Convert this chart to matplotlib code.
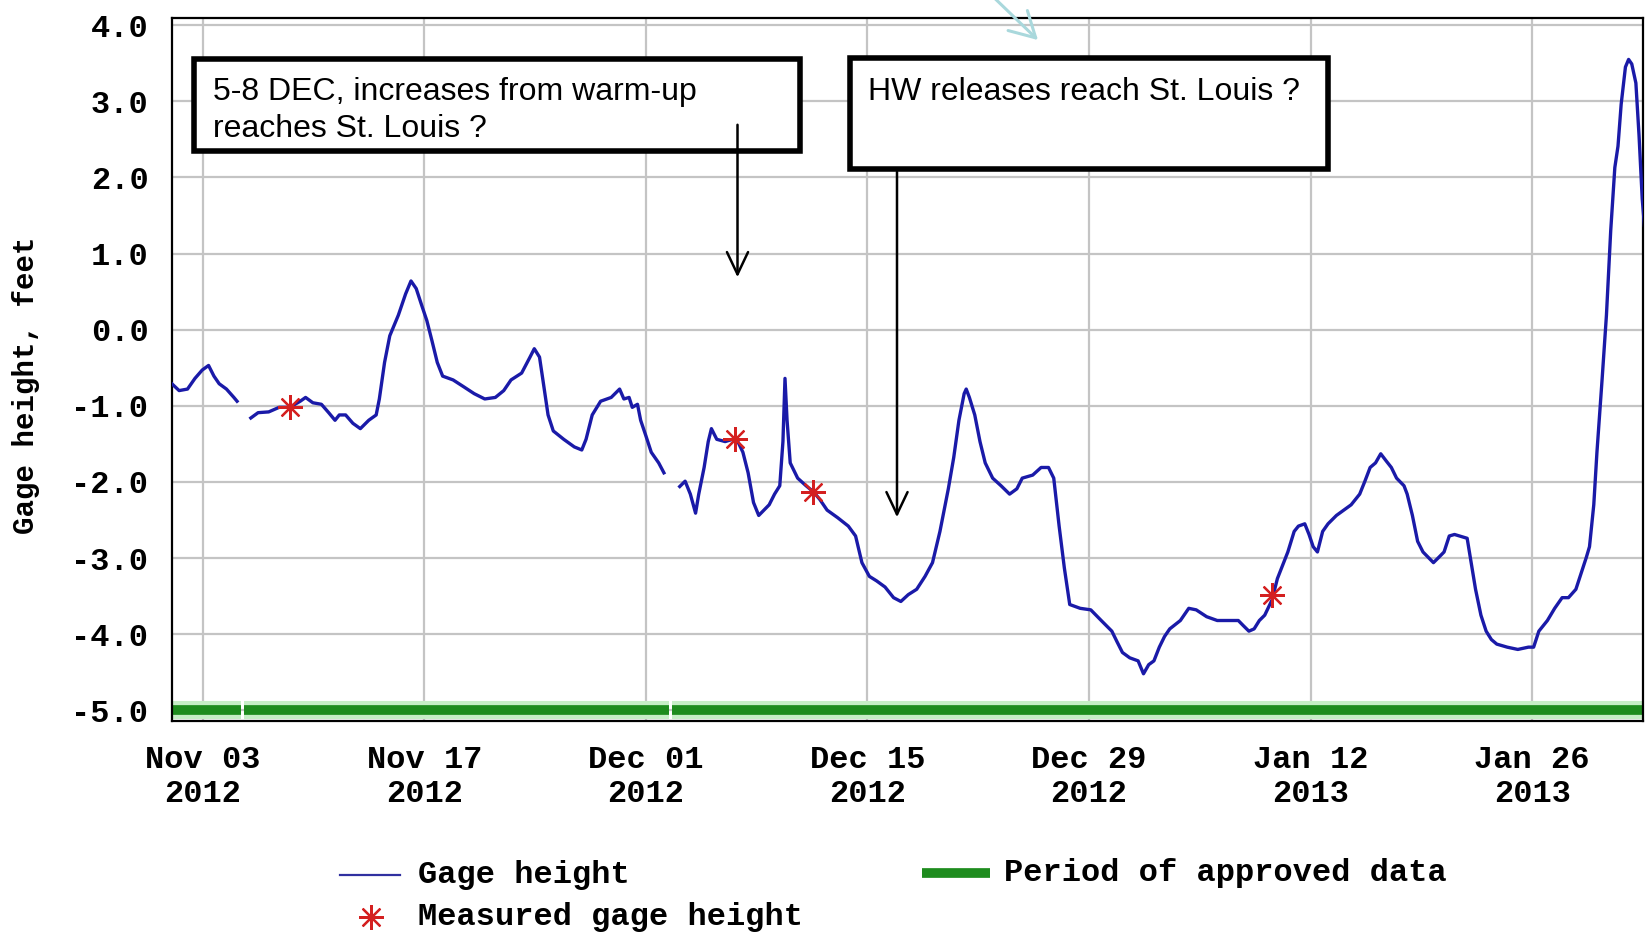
import matplotlib
matplotlib.use("Agg")
import matplotlib.pyplot as plt
import matplotlib.dates as mdates
from matplotlib.lines import Line2D
from matplotlib.patches import Rectangle, FancyArrowPatch
import numpy as np
import pandas as pd

W, H = 1652, 938
START = pd.Timestamp("2012-11-01")

# gage height in feet, days counted from Nov 1 2012; three runs with gaps between
seg1_days = [0.05, 0.51, 1.04, 1.51, 1.97, 2.37, 2.71, 3.04, 3.50, 3.97, 4.17]
seg1_ft = [-0.71, -0.80, -0.78, -0.64, -0.53, -0.47, -0.61, -0.71, -0.78, -0.89, -0.94]

seg2_days = [5.04, 5.50, 6.17, 6.83, 7.50, 8.16, 8.50, 8.96, 9.50, 9.96, 10.36, 10.63,
             11.03, 11.49, 11.96, 12.49, 12.96, 13.16, 13.49, 13.82, 14.36, 14.82, 15.16,
             15.49, 15.82, 16.16, 16.49, 16.82, 17.16, 17.82, 18.49, 19.15, 19.82, 20.49,
             21.02, 21.48, 22.15, 22.68, 22.95, 23.28, 23.48, 23.82, 24.15, 24.81, 25.48,
             25.95, 26.22, 26.61, 27.14, 27.81, 28.34, 28.61, 28.94, 29.14, 29.47, 29.67,
             30.01, 30.34, 30.81, 31.14]
seg2_ft = [-1.16, -1.09, -1.08, -1.02, -1.02, -0.94, -0.89, -0.96, -0.98, -1.09, -1.19, -1.12,
           -1.12, -1.23, -1.30, -1.19, -1.12, -0.91, -0.43, -0.08, 0.19, 0.47, 0.64,
           0.54, 0.33, 0.12, -0.15, -0.43, -0.61, -0.66, -0.75, -0.84, -0.91, -0.89,
           -0.80, -0.66, -0.57, -0.36, -0.25, -0.36, -0.64, -1.12, -1.33, -1.44, -1.54,
           -1.58, -1.44, -1.12, -0.94, -0.89, -0.78, -0.91, -0.89, -1.02, -0.98, -1.19,
           -1.40, -1.61, -1.75, -1.88]

seg3_days = [32.14, 32.48, 32.81, 33.14, 33.34, 33.68, 33.94, 34.14, 34.48, 35.01, 35.48, 35.81,
             36.13, 36.46, 36.80, 37.13, 37.46, 37.79, 38.13, 38.46, 38.66, 38.79, 38.92,
             39.12, 39.59, 40.12, 40.59, 40.99, 41.45, 42.12, 42.79, 43.25, 43.65, 44.12,
             44.58, 45.11, 45.65, 46.11, 46.58, 47.11, 47.64, 48.11, 48.58, 49.11, 49.45,
             49.78, 50.11, 50.24, 50.44, 50.78, 51.11, 51.44, 51.91, 52.44, 52.98, 53.44,
             53.78, 54.44, 54.97, 55.44, 55.77, 56.11, 56.44, 56.78, 57.44, 58.11, 58.77,
             59.44, 59.77, 60.11, 60.57, 61.10, 61.44, 61.77, 62.10, 62.44, 62.77, 63.10,
             63.77, 64.30, 64.77, 65.43, 66.10, 66.76, 67.43, 67.76, 68.10, 68.43, 68.76,
             69.10, 69.56, 69.90, 70.30, 70.56, 70.96, 71.23, 71.63, 71.90, 72.16, 72.43,
             72.76, 73.10, 73.63, 74.10, 74.56, 75.10, 75.43, 75.76, 76.10, 76.43, 76.76,
             77.10, 77.43, 77.90, 78.10, 78.43, 78.76, 79.10, 79.43, 79.76, 80.10, 80.43,
             80.76, 81.09, 81.42, 81.89, 82.09, 82.42, 82.76, 83.09, 83.42, 83.76, 84.42,
             85.09, 85.76, 86.09, 86.42, 86.96, 87.42, 87.89, 88.29, 88.76, 89.09, 89.42,
             89.62, 89.89, 90.09, 90.42, 90.69, 90.96, 91.22, 91.42, 91.62, 91.89, 92.09,
             92.29, 92.55, 92.75, 92.95, 93.09]
seg3_ft = [-2.06, -1.99, -2.16, -2.41, -2.16, -1.81, -1.47, -1.30, -1.44, -1.47, -1.44, -1.47,
           -1.61, -1.88, -2.27, -2.44, -2.37, -2.30, -2.16, -2.05, -1.47, -0.64, -1.19,
           -1.75, -1.95, -2.05, -2.13, -2.23, -2.37, -2.47, -2.58, -2.71, -3.06, -3.24,
           -3.30, -3.38, -3.52, -3.57, -3.48, -3.41, -3.24, -3.06, -2.65, -2.09, -1.68,
           -1.19, -0.84, -0.78, -0.89, -1.12, -1.47, -1.75, -1.95, -2.05, -2.16, -2.09,
           -1.95, -1.91, -1.81, -1.81, -1.95, -2.58, -3.13, -3.61, -3.66, -3.68, -3.82,
           -3.96, -4.10, -4.24, -4.31, -4.35, -4.52, -4.40, -4.35, -4.17, -4.03, -3.93,
           -3.82, -3.66, -3.68, -3.77, -3.82, -3.82, -3.82, -3.89, -3.96, -3.93, -3.82,
           -3.75, -3.55, -3.27, -3.06, -2.92, -2.65, -2.58, -2.55, -2.69, -2.85, -2.92,
           -2.65, -2.55, -2.44, -2.37, -2.30, -2.16, -1.99, -1.81, -1.75, -1.63, -1.72,
           -1.81, -1.95, -2.05, -2.16, -2.44, -2.78, -2.92, -2.99, -3.06, -2.99, -2.92,
           -2.71, -2.69, -2.71, -2.74, -2.99, -3.41, -3.75, -3.96, -4.07, -4.13, -4.17,
           -4.20, -4.17, -4.17, -3.96, -3.82, -3.66, -3.52, -3.52, -3.41, -3.20, -2.99,
           -2.85, -2.30, -1.61, -0.64, 0.19, 1.30, 2.13, 2.41, 2.96, 3.45, 3.55,
           3.49, 3.24, 2.55, 1.72, 1.37]

meas_days = [7.50, 35.66, 40.59, 69.56]
meas_ft = [-1.02, -1.44, -2.13, -3.48]

# approved-data bar, runs of days
approved = [(0.0, 4.42), (4.58, 31.45), (31.62, 93.2)]
approved_level = -5.0

tick_days = [2, 16, 30, 44, 58, 72, 86]
yticks = [4, 3, 2, 1, 0, -1, -2, -3, -4, -5]

note1 = ["5-8 DEC, increases from warm-up", "reaches St. Louis ?"]
note2 = "HW releases reach St. Louis ?"

BLUE = "#1a1aa8"
GREEN = "#1e8c1e"
RED = "#d42020"
FS = 23

plt.rcParams["font.family"] = ["Liberation Mono", "DejaVu Sans Mono"]
plt.rcParams["font.weight"] = "bold"

base = mdates.date2num(START.to_pydatetime())

fig = plt.figure(figsize=(W / 100, H / 100), dpi=100)
ax = fig.add_axes([172 / W, 1 - 721 / H, (1643 - 172) / W, (721 - 18.3) / H])

for d, v in [(seg1_days, seg1_ft), (seg2_days, seg2_ft), (seg3_days, seg3_ft)]:
    ax.plot(base + np.array(d), v, color=BLUE, lw=2.4, zorder=3)

for a, b in approved:
    ax.plot([base + a, base + b], [approved_level, approved_level], color="#c6eec6",
            lw=13, solid_capstyle="butt", zorder=2)
    ax.plot([base + a, base + b], [approved_level, approved_level], color=GREEN,
            lw=7, solid_capstyle="butt", zorder=2.5)

ax.plot(base + np.array(meas_days), meas_ft, ls="none", marker=(8, 2, 0), ms=18,
        mew=1.6, color=RED, zorder=4)

ax.set_xlim(base + 0.06, base + 93.0)
ax.set_ylim(-5.14, 4.09)
ax.set_xticks(base + np.array(tick_days))
ax.xaxis.set_major_formatter(mdates.DateFormatter("%b %d\n%Y"))
ax.set_yticks(yticks)
ax.set_yticklabels([f"{v:.1f}" for v in yticks])
ax.grid(True, color="#c4c4c4", lw=1.6)
ax.set_axisbelow(True)
ax.tick_params(axis="both", length=0, labelsize=FS)
ax.tick_params(axis="y", pad=17)
ax.tick_params(axis="x", pad=17)
for s in ax.spines.values():
    s.set_linewidth(1.6)
    s.set_color("black")

ax.set_ylabel("Gage height, feet", fontsize=21, fontweight="bold")
ax.yaxis.set_label_coords((40 - 172) / (1643 - 172), (721 - 385) / (721 - 18.3))


def fx(x):
    return x / W


def fy(y):
    return 1 - y / H


# legend drawn below the plot
fig.add_artist(Line2D([fx(340), fx(400)], [fy(875), fy(875)], color="#3030a0", lw=1.6))
fig.text(fx(418), fy(875), "Gage height", fontsize=FS, va="center")
fig.add_artist(Line2D([fx(371)], [fy(917)], ls="none", marker=(8, 2, 0), ms=18, mew=1.6,
                      color=RED))
fig.text(fx(418), fy(917), "Measured gage height", fontsize=FS, va="center")
fig.add_artist(Line2D([fx(922), fx(990)], [fy(873), fy(873)], color=GREEN, lw=7,
                      solid_capstyle="butt"))
fig.text(fx(1004), fy(873), "Period of approved data", fontsize=FS, va="center")

# annotation boxes
for x0, y0, x1, y1 in [(194, 58.7, 800, 151), (850, 58.3, 1328, 169)]:
    fig.add_artist(Rectangle((fx(x0), fy(y1)), fx(x1) - fx(x0), fy(y0) - fy(y1),
                             transform=fig.transFigure, facecolor="white",
                             edgecolor="black", lw=4, zorder=5))
for line, yb in zip(note1, [100, 136.7]):
    fig.text(fx(212.7), fy(yb), line, fontsize=23, family="Liberation Sans",
             fontweight="normal", va="baseline", zorder=6)
fig.text(fx(868.5), fy(100), note2, fontsize=23, family="Liberation Sans",
         fontweight="normal", va="baseline", zorder=6)

for x, y0, y1 in [(737.5, 122, 280), (897, 169, 520)]:
    fig.add_artist(FancyArrowPatch((fx(x), fy(y0)), (fx(x), fy(y1)),
                                   transform=fig.transFigure,
                                   arrowstyle="->,head_length=0.8,head_width=0.38",
                                   mutation_scale=20, color="black", lw=1.8, zorder=6))

fig.add_artist(FancyArrowPatch((fx(984), fy(-12)), (fx(1040), fy(42)),
                               transform=fig.transFigure,
                               arrowstyle="->,head_length=0.9,head_width=0.5",
                               mutation_scale=20, color="#a9d8dc", lw=2.2, zorder=6))

fig.savefig("out.png", dpi=100)
